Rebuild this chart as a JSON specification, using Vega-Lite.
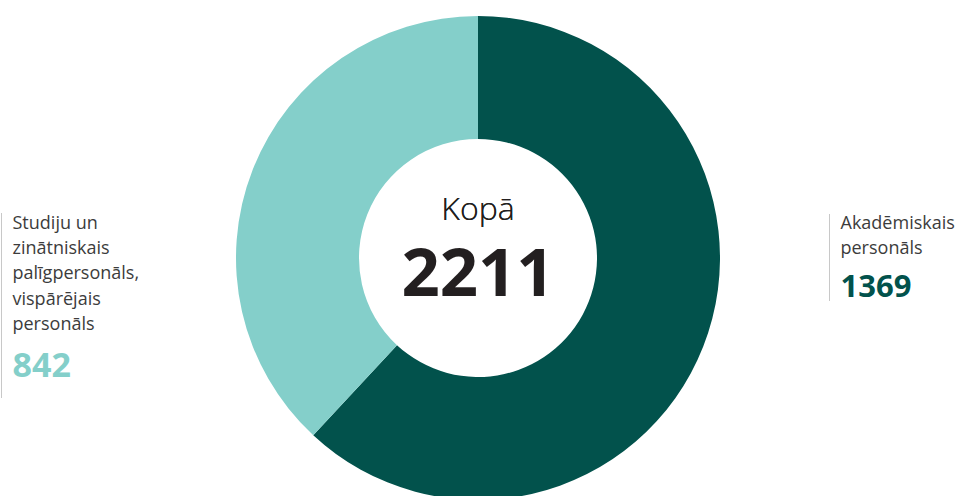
{
  "$schema": "https://vega.github.io/schema/vega-lite/v6.json",
  "autosize": "none",
  "width": 956,
  "height": 476,
  "padding": {"top": 20, "left": 0, "right": 0, "bottom": 0},
  "background": "white",
  "config": {"view": {"stroke": null}, "font": "Open Sans"},
  "data": {
    "values": [
      {"category": "Akadēmiskais personāls", "label": "Akadēmiskais\npersonāls", "value": 1369, "order": 1},
      {"category": "Studiju un zinātniskais palīgpersonāls, vispārējais personāls", "label": "Studiju un\nzinātniskais\npalīgpersonāls,\nvispārējais\npersonāls", "value": 842, "order": 2}
    ]
  },
  "layer": [
    {
      "mark": {"type": "arc", "innerRadius": 119, "outerRadius": 242},
      "encoding": {
        "theta": {"field": "value", "type": "quantitative", "stack": true},
        "order": {"field": "order", "type": "quantitative"},
        "color": {
          "field": "category", "type": "nominal", "legend": null,
          "scale": {"domain": ["Akadēmiskais personāls", "Studiju un zinātniskais palīgpersonāls, vispārējais personāls"], "range": ["#02524c", "#84cfca"]}
        }
      }
    },
    {
      "transform": [{"filter": "datum.order == 2"}],
      "mark": {"type": "rule", "y": 193, "y2": 378, "color": "#c8c8c8", "strokeWidth": 1},
      "encoding": {
        "x": {"field": "category", "type": "nominal", "axis": null,
          "scale": {"type": "point", "padding": 0, "domain": ["Studiju un zinātniskais palīgpersonāls, vispārējais personāls", "Akadēmiskais personāls"], "range": [1.5, 829.5]}}
      }
    },
    {
      "transform": [{"filter": "datum.order == 1"}],
      "mark": {"type": "rule", "y": 194, "y2": 281, "color": "#c8c8c8", "strokeWidth": 1},
      "encoding": {
        "x": {"field": "category", "type": "nominal", "axis": null}
      }
    },
    {
      "mark": {"type": "text", "y": 208.5, "dx": 11, "align": "left", "baseline": "alphabetic", "fontSize": 18, "lineBreak": "\n", "lineHeight": 25.4, "color": "#3c3c3c", "fontWeight": 400},
      "encoding": {
        "x": {"field": "category", "type": "nominal", "axis": null},
        "text": {"field": "label"}
      }
    },
    {
      "mark": {"type": "text", "dx": 11, "align": "left", "baseline": "alphabetic", "fontWeight": 700},
      "encoding": {
        "x": {"field": "category", "type": "nominal", "axis": null},
        "y": {"field": "category", "type": "nominal", "axis": null,
          "scale": {"type": "point", "padding": 0, "domain": ["Studiju un zinātniskais palīgpersonāls, vispārējais personāls", "Akadēmiskais personāls"], "range": [357, 277]}},
        "size": {"field": "category", "type": "nominal", "legend": null,
          "scale": {"domain": ["Studiju un zinātniskais palīgpersonāls, vispārējais personāls", "Akadēmiskais personāls"], "range": [34, 31]}},
        "color": {"field": "category", "type": "nominal", "legend": null},
        "text": {"field": "value", "type": "quantitative", "format": "d"}
      }
    },
    {
      "mark": {"type": "text", "text": "Kopā", "dy": -38, "align": "center", "baseline": "alphabetic", "fontSize": 32, "fontWeight": 300, "color": "#231f20"},
      "encoding": {}
    },
    {
      "transform": [{"aggregate": [{"op": "sum", "field": "value", "as": "total"}]}],
      "mark": {"type": "text", "dy": 38, "align": "center", "baseline": "alphabetic", "fontSize": 67, "fontWeight": 700, "color": "#231f20"},
      "encoding": {
        "text": {"field": "total", "type": "quantitative", "format": "d"}
      }
    }
  ]
}
